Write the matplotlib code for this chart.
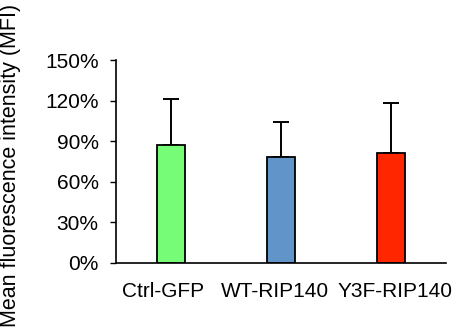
import numpy as np
import matplotlib
matplotlib.use("Agg")
import matplotlib.pyplot as plt
import matplotlib.transforms as mtransforms
from matplotlib.ticker import PercentFormatter

plt.rcParams['font.family'] = ['Liberation Sans', 'DejaVu Sans']

# ---------------------------------- DATA ---------------------------------- #
groups = ['Ctrl-GFP', 'WT-RIP140', 'Y3F-RIP140']
mfi_mean = [87.0, 78.0, 81.0]
mfi_err = [34.0, 26.0, 37.0]
bar_colours = ['#77FC77', '#6195C9', '#FF2600']
y_ticks = [0, 30, 60, 90, 120, 150]

# label nudges in pixels (labels in the original are not centred under bars)
label_dx = [-8, -6.5, 4]

# ---------------------------------- PLOT ---------------------------------- #
fig = plt.figure(figsize=(4.61, 3.33), dpi=100)
ax = fig.add_axes((116/461, 1 - 262.7/333, 330/461, 202.7/333))

x = np.arange(len(groups))
ax.bar(x, mfi_mean, width=0.25, color=bar_colours, edgecolor='black', linewidth=1.3, zorder=2)
ax.errorbar(x, mfi_mean, yerr=[np.zeros(len(x)), mfi_err], fmt='none', ecolor='black',
            elinewidth=1.4, capsize=6, capthick=1.4, zorder=1)

ax.set_xlim(-0.5, 2.5)
ax.set_ylim(0, 150)
ax.set_yticks(y_ticks)
ax.yaxis.set_major_formatter(PercentFormatter(decimals=0))
ax.set_xticks(x)
ax.set_xticklabels(groups)
ax.tick_params(axis='x', length=0, pad=14, labelsize=15)
ax.tick_params(axis='y', length=4.5, width=1, pad=8, labelsize=15)
for lab, dx in zip(ax.get_xticklabels(), label_dx):
    lab.set_transform(lab.get_transform() + mtransforms.ScaledTranslation(dx/100, 0, fig.dpi_scale_trans))
for side in ['top', 'right']:
    ax.spines[side].set_visible(False)
for side in ['left', 'bottom']:
    ax.spines[side].set_linewidth(1.2)

ax.set_ylabel('Mean fluorescence intensity (MFI)', fontsize=15.5)
ax.yaxis.set_label_coords(-95/330, 0.48)

fig.savefig('out.png', dpi=100)
